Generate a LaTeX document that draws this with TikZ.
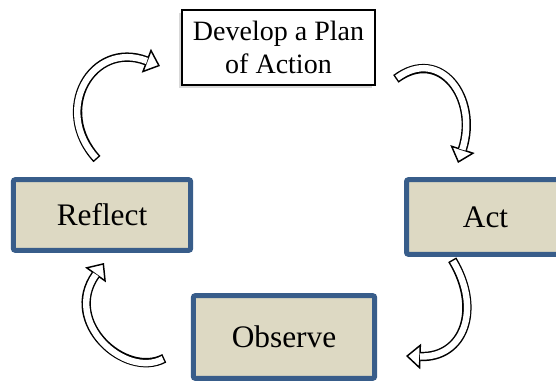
\documentclass[tikz,border=0pt]{standalone}
\usepackage{fontspec}
\setmainfont{Liberation Serif}
\usetikzlibrary{positioning,arrows.meta,shadows}
\definecolor{stageblue}{RGB}{56,93,138}
\definecolor{stagetan}{RGB}{221,217,195}
\tikzset{
	stage/.style={draw=stageblue,fill=stagetan,line width=3.75pt,rounded corners=1.5pt,
		inner sep=0pt,font=\fontsize{23.5}{28}\selectfont},
	planbox/.style={draw=black,fill=white,line width=1.1pt,align=center,inner sep=0pt,
		font=\fontsize{21}{24.5}\selectfont,
		drop shadow={shadow xshift=-2.5pt,shadow yshift=-2.5pt,opacity=0.3}},
	turn/.style={line width=7pt,shorten <=-1.1pt,
		-{Triangle[length=11pt,width=19pt,fill=white,line width=1.1pt]}},
	turn inner/.style={line width=4.8pt,white,shorten >=10.5pt}
}
\newcommand{\turnarrow}[1]{\draw[turn] #1; \draw[turn inner] #1;}

\begin{document}
\begin{tikzpicture}[x=0.75pt,y=0.75pt]
	\useasboundingbox (0,0) rectangle (556,382);
	
	\node[planbox,minimum width=145pt,minimum height=56pt] (plan) at (278.5,334.5) {Develop a Plan\\of Action};
	\node[stage,minimum width=133pt,minimum height=53pt] (reflect) at (102,167) {Reflect};
	\node[stage,minimum width=118.5pt,minimum height=56pt] (act) at (485.5,165) {Act};
	\node[stage,minimum width=136pt,minimum height=62pt] (observe) at (284,45) {Observe};
	
	% curved block arrows round the cycle
	\coordinate (reflect out) at (96,224);
	\coordinate (plan in) at (160,316);
	\coordinate (plan out) at (397,304);
	\coordinate (act in) at (458,219);
	\coordinate (act out) at (453,121);
	\coordinate (observe in) at (406,26);
	\coordinate (observe out) at (163,23);
	\coordinate (reflect in) at (104,119);
	
	\turnarrow{(reflect out) .. controls (52,272) and (92,342) .. (plan in)}
	\turnarrow{(plan out) .. controls (440,336) and (479,284) .. (act in)}
	\turnarrow{(act out) .. controls (482,73) and (464,24) .. (observe in)}
	\turnarrow{(observe out) .. controls (125,3) and (62,60) .. (reflect in)}
	
\end{tikzpicture}
\end{document}
